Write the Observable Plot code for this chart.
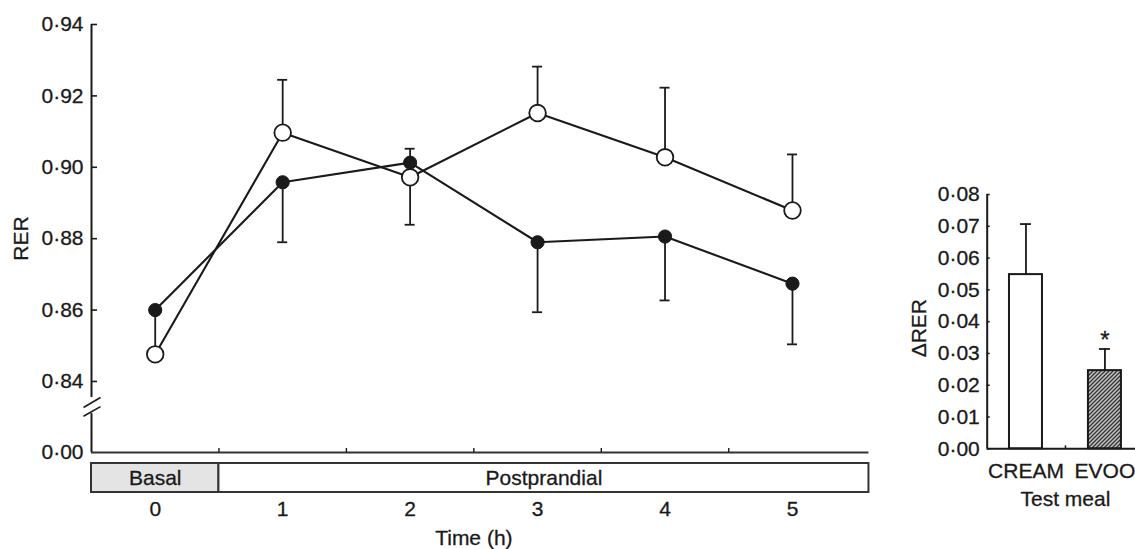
<!DOCTYPE html>
<html>
<head>
<meta charset="utf-8">
<script src="https://cdn.jsdelivr.net/npm/d3@7"></script>
<script src="https://cdn.jsdelivr.net/npm/@observablehq/plot@0.6"></script>
<style>
  body { margin: 0; background: #fff; }
  #wrap { position: relative; width: 1135px; height: 549px; overflow: hidden; background: #fff; }
  #left { position: absolute; left: 0; top: 0; width: 880px; height: 549px; }
  #right { position: absolute; left: 880px; top: 0; width: 255px; height: 549px; }
  svg { max-width: none !important; }
  #wrap svg text { stroke: #1a1a1a; stroke-width: 0.3px; }
</style>
</head>
<body>
<div id="wrap"><div id="left"></div><div id="right"></div></div>
<script>
// ---------- data ----------
const hours = [0, 1, 2, 3, 4, 5];
// open circles
const creamMean   = [0.8476, 0.9097, 0.8972, 0.9152, 0.9028, 0.8879];
const creamErrEnd = [null,   0.9245, 0.8839, 0.9282, 0.9223, 0.9036];
// filled circles
const evooMean    = [0.8600, 0.8958, 0.9013, 0.8790, 0.8806, 0.8674];
const evooErrEnd  = [0.8490, 0.8790, 0.9052, 0.8594, 0.8627, 0.8504];

const yTickValues = [0.84, 0.86, 0.88, 0.90, 0.92, 0.94];
const yBase = 0.8201;           // broken-axis base, labelled 0·00
const axisGap = [0.8310, 0.8355]; // broken part of the y axis
const halfHourTicks = [0.5, 1.5, 2.5, 3.5, 4.5];
const phaseLabels = ["Basal", "Postprandial"];
const phaseStart = [-0.5, 0.5];
const phaseEnd = [0.5, 5.6];
const phaseFill = ["#e4e4e4", "#ffffff"];

const meals = ["CREAM", "EVOO"];
const deltaMean = [0.0548, 0.0246];
const deltaErrEnd = [0.0707, 0.0314];
const deltaMark = ["", "*"];
const deltaTicks = [0, 0.01, 0.02, 0.03, 0.04, 0.05, 0.06, 0.07, 0.08];

// ---------- helpers ----------
const fmt = d => d.toFixed(2).replace(".", "·");
const FONT = "'Liberation Sans', Arial, Helvetica, sans-serif";
const FS = "21px";
const INK = "#1a1a1a";

// ---------- left chart ----------
const L = {W: 880, H: 549, mL: 91, mR: 24.3, mT: 24, mB: 97};
const xDom = [-0.5, 5.5];
const pxX = (L.W - L.mL - L.mR) / (xDom[1] - xDom[0]);
const pxY = (L.H - L.mT - L.mB) / (0.94 - yBase);
const boxTop = yBase - 11 / pxY;
const boxBottom = yBase - 40 / pxY;

const cream = hours.map((h, i) => ({h, mean: creamMean[i], err: creamErrEnd[i]}));
const evoo = hours.map((h, i) => ({h, mean: evooMean[i], err: evooErrEnd[i]}));
const phases = phaseLabels.map((label, i) => ({label, start: phaseStart[i], end: phaseEnd[i], fill: phaseFill[i]}));
const slashes = [
  {y1: axisGap[1] - 10 / pxY, y2: axisGap[1]},
  {y1: axisGap[0] - 2.7 / pxY, y2: axisGap[0] + 7 / pxY}
];
const capX = 5 / pxX;

function errMarks(rows) {
  const r = rows.filter(d => d.err != null);
  return [
    Plot.ruleX(r, {x: "h", y1: "mean", y2: "err", stroke: INK, strokeWidth: 1.8}),
    Plot.ruleY(r, {y: "err", x1: d => d.h - capX, x2: d => d.h + capX, stroke: INK, strokeWidth: 1.8})
  ];
}

const left = Plot.plot({
  width: L.W, height: L.H,
  marginLeft: L.mL, marginRight: L.mR, marginTop: L.mT, marginBottom: L.mB,
  style: {fontFamily: FONT, fontSize: FS, color: INK, background: "white"},
  x: {type: "linear", domain: xDom},
  y: {type: "linear", domain: [yBase, 0.94]},
  color: {type: "identity"},
  marks: [
    Plot.rect(phases, {x1: "start", x2: "end", y1: boxBottom, y2: boxTop, fill: "fill", stroke: "#333", strokeWidth: 2}),
    Plot.text(phases, {x: d => (d.start + d.end) / 2, y: (boxTop + boxBottom) / 2, text: "label", fill: INK}),
    Plot.ruleX([xDom[0]], {y1: axisGap[1], y2: 0.94, stroke: INK, strokeWidth: 2}),
    Plot.ruleX([xDom[0]], {y1: yBase, y2: axisGap[0], stroke: INK, strokeWidth: 2}),
    Plot.link(slashes, {x1: xDom[0] - 8 / pxX, x2: xDom[0] + 9 / pxX, y1: "y1", y2: "y2", stroke: INK, strokeWidth: 1.6}),
    Plot.ruleY([yBase], {x1: xDom[0], x2: phaseEnd[1], stroke: "#333", strokeWidth: 2}),
    Plot.ruleY(yTickValues, {x1: xDom[0], x2: xDom[0] + 6 / pxX, stroke: INK, strokeWidth: 1.6}),
    Plot.ruleX(halfHourTicks, {y1: yBase, y2: yBase + 4 / pxY, stroke: INK, strokeWidth: 1.4}),
    Plot.axisY({ticks: [yBase, ...yTickValues], tickFormat: d => d === yBase ? "0·00" : fmt(d), tickSize: 0, tickPadding: 8, label: null}),
    Plot.axisX({ticks: hours, tickFormat: d => String(d), tickSize: 0, tickPadding: 49, label: null}),
    Plot.text(["Time (h)"], {frameAnchor: "bottom", lineAnchor: "middle", dy: 86, fill: INK}),
    Plot.text(["RER"], {frameAnchor: "left", textAnchor: "middle", lineAnchor: "middle", dx: -70, rotate: -90, fill: INK}),
    Plot.line(cream, {x: "h", y: "mean", stroke: INK, strokeWidth: 2.1}),
    Plot.line(evoo, {x: "h", y: "mean", stroke: INK, strokeWidth: 2.1}),
    ...errMarks(evoo),
    ...errMarks(cream),
    Plot.dot(cream, {x: "h", y: "mean", r: 8.3, fill: "white", stroke: INK, strokeWidth: 1.8}),
    Plot.dot(evoo, {x: "h", y: "mean", r: 6.6, fill: INK, stroke: INK, strokeWidth: 1})
  ]
});
document.getElementById("left").appendChild(left);

// ---------- right chart ----------
const R = {W: 255, H: 549, mL: 106.7, mR: 0, mT: 194, mB: 100.7};
const xDomR = [-0.491, 1.387];
const pxXR = (R.W - R.mL - R.mR) / (xDomR[1] - xDomR[0]);
const pxYR = (R.H - R.mT - R.mB) / 0.08;
const halfBar = 16.5 / pxXR;
const capR = 5.5 / pxXR;
const bars = meals.map((m, i) => ({i, m, mean: deltaMean[i], err: deltaErrEnd[i], mark: deltaMark[i], fill: i === 0 ? "white" : "url(#hatch)"}));

const right = Plot.plot({
  width: R.W, height: R.H,
  marginLeft: R.mL, marginRight: R.mR, marginTop: R.mT, marginBottom: R.mB,
  style: {fontFamily: FONT, fontSize: FS, color: INK, background: "white"},
  x: {type: "linear", domain: xDomR},
  y: {type: "linear", domain: [0, 0.08]},
  color: {type: "identity"},
  marks: [
    Plot.rect(bars, {x1: d => d.i - halfBar, x2: d => d.i + halfBar, y1: 0, y2: "mean", fill: "fill", stroke: INK, strokeWidth: 2}),
    Plot.ruleX(bars, {x: "i", y1: "mean", y2: "err", stroke: INK, strokeWidth: 1.8}),
    Plot.ruleY(bars, {y: "err", x1: d => d.i - capR, x2: d => d.i + capR, stroke: INK, strokeWidth: 1.8}),
    Plot.text(bars, {x: "i", y: "err", text: "mark", dy: -9, fontSize: 24, fill: INK}),
    Plot.ruleX([xDomR[0]], {y1: 0, y2: 0.08, stroke: INK, strokeWidth: 2}),
    Plot.ruleY([0], {x1: xDomR[0], x2: xDomR[1], stroke: INK, strokeWidth: 2}),
    Plot.ruleY(deltaTicks, {x1: xDomR[0], x2: xDomR[0] + 3 / pxXR, stroke: INK, strokeWidth: 1.5}),
    Plot.ruleX([0.5], {y1: 0, y2: 3 / pxYR, stroke: INK, strokeWidth: 1.5}),
    Plot.axisY({ticks: deltaTicks, tickFormat: fmt, tickSize: 0, tickPadding: 7.4, label: null}),
    Plot.axisX({ticks: [0, 1], tickFormat: i => meals[i], tickSize: 0, tickPadding: 14, label: null}),
    Plot.text(["Test meal"], {x: 0.5, frameAnchor: "bottom", lineAnchor: "middle", dy: 50, fill: INK}),
    Plot.text(["ΔRER"], {frameAnchor: "left", textAnchor: "middle", lineAnchor: "middle", dx: -67.7, dy: 6.5, rotate: -90, fill: INK})
  ]
});
const ns = "http://www.w3.org/2000/svg";
const defs = document.createElementNS(ns, "defs");
defs.innerHTML = '<pattern id="hatch" patternUnits="userSpaceOnUse" width="4" height="4">' +
  '<rect width="4" height="4" fill="#c4c4c4"/>' +
  '<path d="M-1,1 l2,-2 M0,4 l4,-4 M3,5 l2,-2" stroke="#333" stroke-width="1.3"/></pattern>';
right.insertBefore(defs, right.firstChild);
document.getElementById("right").appendChild(right);
</script>
</body>
</html>
